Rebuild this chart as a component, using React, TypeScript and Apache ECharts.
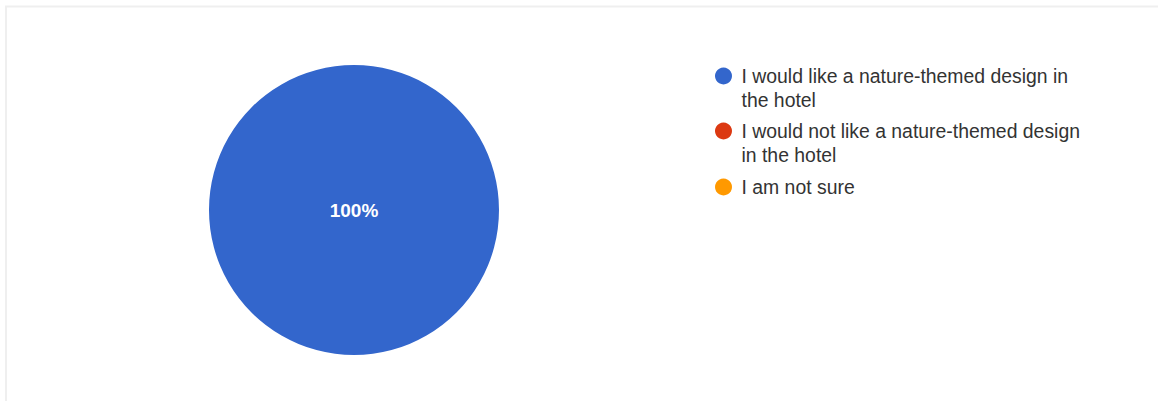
import React, { useEffect, useRef } from "react";
import * as echarts from "echarts";

const categories = [
  "I would like a nature-themed design in the hotel",
  "I would not like a nature-themed design in the hotel",
  "I am not sure",
];
const values = [100, 0, 0];
const colors = ["#3366cc", "#dc3912", "#ff9900"];
const legendTops = [40, 95, 175];
const legendLines = [2, 2, 1];

export default function App() {
  const ref = useRef<HTMLDivElement>(null);
  useEffect(() => {
    document.body.style.margin = "0";
    document.body.style.overflow = "hidden";
    const chart = echarts.init(ref.current!, null, { renderer: "svg" });
    const font = "'Liberation Sans', Arial, sans-serif";
    const legends = categories.map((name, i) => ({
      orient: "vertical",
      left: 715,
      top: legendTops[i],
      padding: 0,
      icon: "circle",
      itemWidth: 26,
      itemHeight: 17,
      data: [name],
      formatter: (n: string) => (legendLines[i] > 1 ? "\n" + n : n),
      textStyle: {
        color: "#333333",
        fontSize: 19.4,
        fontFamily: font,
        lineHeight: 24,
        width: 345,
        overflow: "break",
      },
    }));
    chart.setOption({
      animation: false,
      backgroundColor: "#ffffff",
      color: colors,
      legend: legends,
      graphic: [
        {
          type: "rect",
          silent: true,
          shape: { x: 6, y: 6.5, width: 1300, height: 600 },
          style: { fill: "none", stroke: "#efefef", lineWidth: 2 },
        },
      ],
      series: [
        {
          type: "pie",
          center: [354, 210],
          radius: 145,
          startAngle: 90,
          avoidLabelOverlap: false,
          itemStyle: { borderWidth: 0 },
          label: {
            show: true,
            position: "center",
            color: "#ffffff",
            fontSize: 19,
            fontWeight: "bold",
            fontFamily: font,
            formatter: (p: any) => (p.value > 0 ? `${Math.round(p.percent)}%` : ""),
          },
          labelLine: { show: false },
          emphasis: { disabled: true },
          data: categories.map((name, i) => ({ name, value: values[i] })),
        },
      ],
    });
    return () => chart.dispose();
  }, []);
  return <div ref={ref} style={{ width: 1158, height: 401 }} />;
}
